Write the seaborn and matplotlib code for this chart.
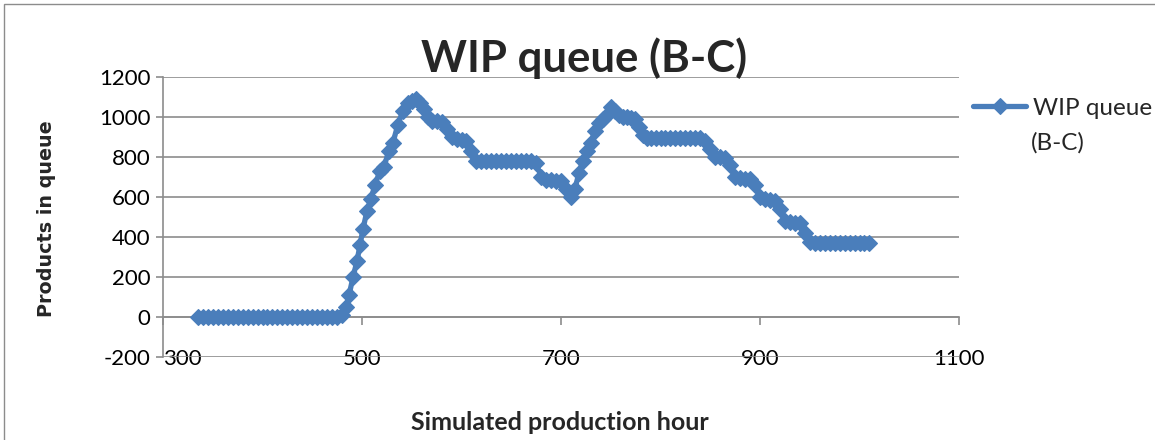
import matplotlib
matplotlib.use("Agg")
import matplotlib.pyplot as plt
from matplotlib.patches import Rectangle
import seaborn as sns
import pandas as pd

# ---- data ----
hours = [335, 340, 345, 350, 355, 360, 365, 370, 375, 380, 385, 390, 395, 400, 405,
         410, 415, 420, 425, 430, 435, 440, 445, 450, 455, 460, 465, 470, 475,
         480, 484, 487, 491, 495, 498, 501, 505, 509, 513, 518, 522, 527, 531, 536,
         541, 546, 550, 554, 558, 562, 566,
         570, 575, 580, 585, 590, 595, 600, 605, 610, 615, 620, 625, 630, 635, 640,
         645, 650, 655, 660, 665, 670, 675, 680, 685, 690, 695, 700, 705, 710,
         714, 718, 722, 726, 730, 734, 738, 742, 746, 750, 754, 758, 762, 766, 770,
         774, 778, 782,
         786, 790, 795, 800, 805, 810, 815, 820, 825, 830, 835, 840,
         845, 850, 855, 860, 865, 870, 875, 880, 885, 890, 895, 900, 905, 910, 915,
         920, 925, 930, 935, 940, 945, 950, 955, 960, 965, 970, 975, 980, 985, 990,
         995, 1000, 1005, 1010]
queue = [0, 0, 0, 0, 0, 0, 0, 0, 0, 0, 0, 0, 0, 0, 0,
         0, 0, 0, 0, 0, 0, 0, 0, 0, 0, 0, 0, 0, 0,
         10, 50, 110, 200, 280, 360, 440, 530, 590, 660, 730, 750, 830, 870, 960,
         1030, 1070, 1080, 1090, 1070, 1040, 1000,
         980, 980, 975, 940, 900, 890, 885, 880, 830, 780, 780, 780, 780, 780, 780,
         780, 780, 780, 780, 780, 780, 770, 700, 685, 685, 680, 680, 640, 600,
         640, 720, 780, 830, 870, 930, 970, 990, 1010, 1050, 1030, 1010, 1000, 1000, 995,
         990, 950, 910,
         895, 895, 895, 895, 895, 895, 895, 895, 895, 895, 895, 895,
         880, 840, 800, 800, 795, 760, 700, 695, 690, 690, 660, 600, 590, 585, 580,
         540, 480, 475, 470, 470, 420, 375, 370, 370, 370, 370, 370, 370, 370, 370,
         370, 370, 370, 370]
x_ticks = [300, 500, 700, 900, 1100]
y_ticks = [-200, 0, 200, 400, 600, 800, 1000, 1200]
legend_lines = ["WIP queue", "(B-C)"]
title = "WIP queue (B-C)"
x_label = "Simulated production hour"
y_label = "Products in queue"

assert len(hours) == len(queue)
df = pd.DataFrame({"hour": hours, "queue": queue})

sns.set_style("white")
plt.rcParams["font.family"] = ["Lato", "DejaVu Sans"]

W, H = 1155, 440
fig = plt.figure(figsize=(W / 100, H / 100), dpi=100)
ax = fig.add_axes([163 / W, 1 - 357 / H, (959 - 163) / W, (357 - 77) / H])

blue = "#4A7EBB"
grey = "#8C8C8C"

sns.lineplot(data=df, x="hour", y="queue", ax=ax, color=blue, linewidth=3.8,
             marker="D", markersize=7.9, markeredgecolor=blue, markeredgewidth=0.8,
             estimator=None, label=legend_lines[0], zorder=3)

ax.set_xlim(300, 1100)
ax.set_ylim(-200, 1200)

ax.yaxis.grid(True, color=grey, linewidth=1.2)
ax.xaxis.grid(False)
for s in ["top", "right"]:
    ax.spines[s].set_visible(False)
ax.spines["bottom"].set_position(("data", 0))
ax.spines["bottom"].set_color(grey)
ax.spines["bottom"].set_linewidth(1.2)
ax.spines["left"].set_color(grey)
ax.spines["left"].set_linewidth(1.2)

ax.set_xticks(x_ticks)
ax.set_yticks(y_ticks)
ax.set_xticklabels([str(v) for v in x_ticks])
ax.set_yticklabels([str(v) for v in y_ticks])
ax.set_xlabel("")
ax.set_ylabel("")

ax.tick_params(axis="x", direction="out", length=6, width=1.2, color=grey,
               pad=17, labelsize=16, labelcolor="black", bottom=True)
ax.tick_params(axis="y", direction="out", length=5, width=1.2, color=grey,
               pad=4, labelsize=16, labelcolor="black", left=True)
ax.xaxis.get_major_ticks()[0].label1.set_horizontalalignment("left")

leg = ax.legend(loc="center left", bbox_to_anchor=(973 / W, 1 - 108 / H),
                bbox_transform=fig.transFigure, frameon=False, fontsize=17.5,
                handlelength=2.2, handletextpad=0.25, borderpad=0,
                borderaxespad=0)
fig.text(1031 / W, 1 - 143 / H, legend_lines[1], ha="left", va="center",
         fontsize=17.5)

fig.text(584 / W, 1 - 72 / H, title, ha="center", va="baseline",
         fontsize=31.5, fontweight="bold")
fig.text(560 / W, 1 - 430 / H, x_label, ha="center", va="baseline",
         fontsize=18, fontweight="bold")
fig.text(47 / W, 1 - 219 / H, y_label, ha="center", va="center", rotation=90,
         fontsize=13.8, fontweight="bold", family=["DejaVu Sans"])

fig.patches.append(Rectangle((4 / W, -0.2), 1.5, 1.2 - 4 / H, fill=False,
                             edgecolor=grey, linewidth=1.0,
                             transform=fig.transFigure, figure=fig))

fig.savefig("out.png", dpi=100)
